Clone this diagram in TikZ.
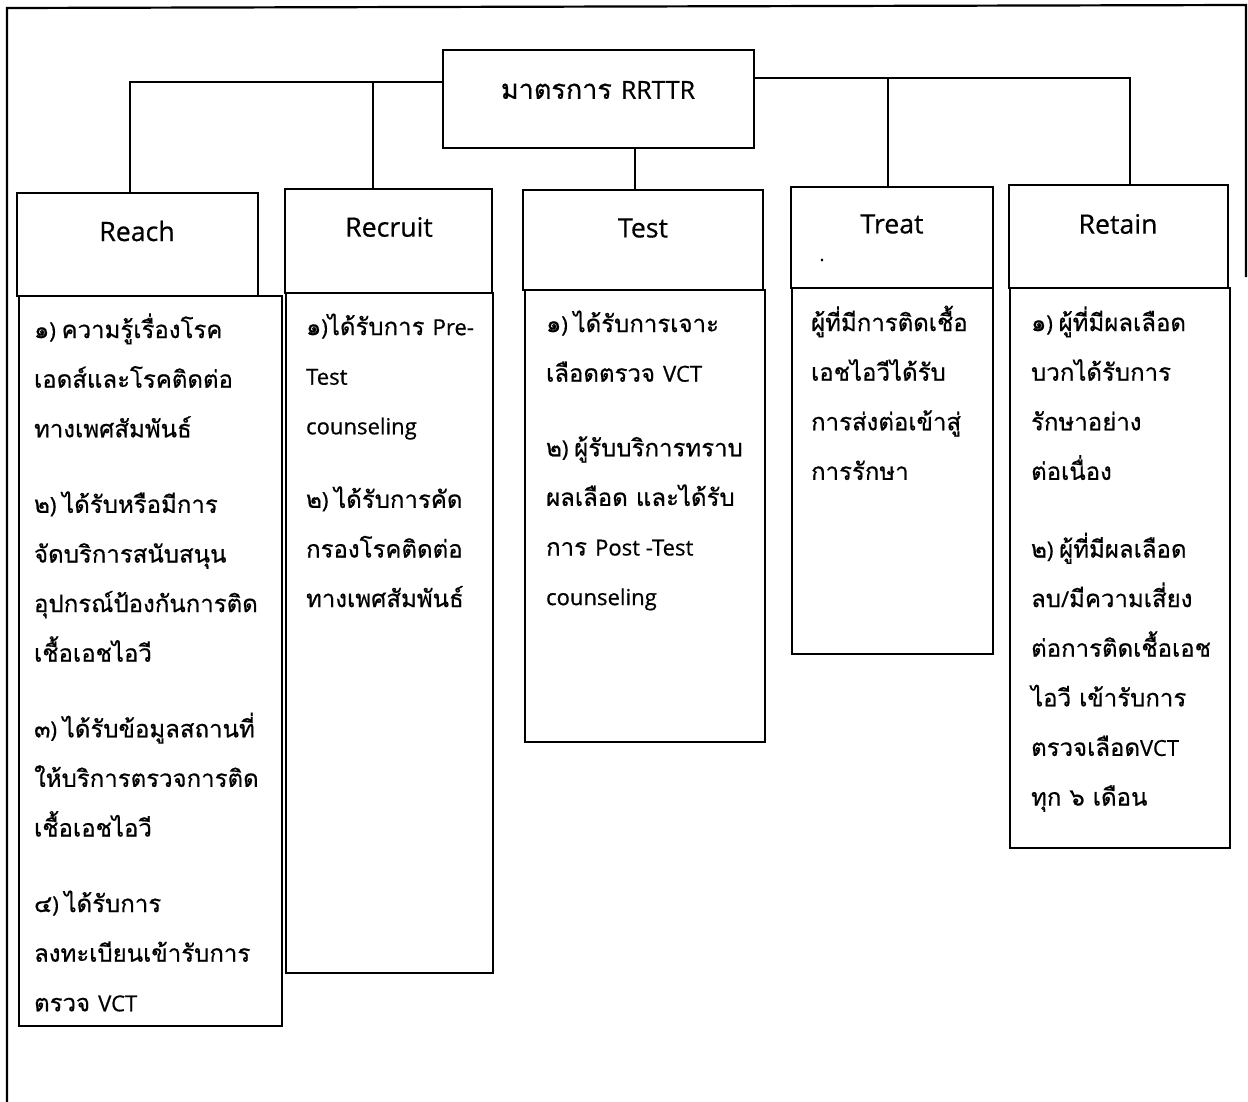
\documentclass[tikz,border=0pt]{standalone}
\usepackage{fontspec}
\setmainfont[Scale=0.92,FakeBold=0.6]{Open Sans}
\newfontfamily\latinfont[Scale=0.92,FakeBold=0.6]{Open Sans}
\newfontfamily\thaifont[Script=Thai,FakeBold=0.6]{Loma}
% switch to the Thai family automatically for characters U+0E00--U+0E7F
\XeTeXinterchartokenstate=1
\newXeTeXintercharclass\ThaiCls
\newcount\tcnt
\tcnt="0E00
\loop
  \XeTeXcharclass\tcnt=\ThaiCls
  \advance\tcnt by 1
\ifnum\tcnt<"0E80 \repeat
\XeTeXinterchartoks 0 \ThaiCls = {\thaifont}
\XeTeXinterchartoks 4095 \ThaiCls = {\thaifont}
\XeTeXinterchartoks \ThaiCls 0 = {\latinfont}
\XeTeXinterchartoks 4095 0 = {\latinfont}
\begin{document}
\begin{tikzpicture}[x=0.5pt,y=-0.5pt,
  line width=1.1pt,
  box/.style={draw,rectangle,inner sep=0pt,outer sep=0pt},
  head/.style={font=\fontsize{14.5}{18}\selectfont,inner sep=0pt},
  body/.style={font=\fontsize{12}{24.8}\selectfont,align=left,anchor=north west,inner sep=0pt},
]
\useasboundingbox (0,0) rectangle (1248,1102);

% outer frame
\draw (7,1102) -- (7,8) -- (1246,5) -- (1246,277);

% top box
\node[box,minimum width=155.5pt,minimum height=49pt] (top) at (598.5,99) {};
\node[font=\fontsize{13.5}{16}\selectfont,inner sep=0pt] (topT) at (598,90) {มาตรการ RRTTR};

% header boxes
\node[box,minimum width=120.5pt,minimum height=51.5pt] (reach)   at (137.5,244.5) {};
\node[box,minimum width=103.5pt,minimum height=52pt]   (recruit) at (388.5,241) {};
\node[box,minimum width=120pt,minimum height=50pt]     (test)    at (643,240) {};
\node[box,minimum width=101pt,minimum height=50.5pt]   (treat)   at (892,237.5) {};
\node[box,minimum width=109.5pt,minimum height=51.5pt] (retain)  at (1118.5,236.5) {};

% body boxes
\node[box,minimum width=131.5pt,minimum height=365pt] (reachB)   at (150.5,661) {};
\node[box,minimum width=103.5pt,minimum height=340pt] (recruitB) at (389.5,633) {};
\node[box,minimum width=120pt,minimum height=226pt]   (testB)    at (645,516) {};
\node[box,minimum width=100.5pt,minimum height=183pt] (treatB)   at (892.5,471) {};
\node[box,minimum width=110pt,minimum height=280pt]   (retainB)  at (1120,568) {};

% titles
\node[head] (reachT)   at (137,231) {Reach};
\node[head] (recruitT) at (389,227) {Recruit};
\node[head] (testT)    at (643,228) {Test};
\node[head] (treatT)   at (892,224) {Treat};
\node[head] (retainT)  at (1118,224) {Retain};
\node[inner sep=0pt,font=\fontsize{10}{12}\selectfont] (treatDot) at (822,260) {.};

% connectors
\coordinate (jl) at (130,82);
\coordinate (jrc) at (373,82);
\coordinate (jr) at (1130,78);
\coordinate (jt) at (888,78);
\coordinate (jc) at (635,0);
\draw (jl -| top.west) -- (jl) -- (jl |- reach.north);
\draw (jrc) -- (jrc |- recruit.north);
\draw (jr -| top.east) -- (jr) -- (jr |- retain.north);
\draw (jt) -- (jt |- treat.north);
\draw (jc |- top.south) -- (jc |- test.north);

% body texts
\node[body] (reachX) at (33,305) {\rule{0pt}{16pt}%
๑) ความรู้เรื่องโรค\\
เอดส์และโรคติดต่อ\\
ทางเพศสัมพันธ์\\[13pt]
๒) ได้รับหรือมีการ\\
จัดบริการสนับสนุน\\
อุปกรณ์ป้องกันการติด\\
เชื้อเอชไอวี\\[13pt]
๓) ได้รับข้อมูลสถานที่\\
ให้บริการตรวจการติด\\
เชื้อเอชไอวี\\[13pt]
๔) ได้รับการ\\
ลงทะเบียนเข้ารับการ\\
ตรวจ VCT};

\node[body] (recruitX) at (305,302) {\rule{0pt}{16pt}%
๑)ได้รับการ Pre-\\
Test\\
counseling\\[12pt]
๒) ได้รับการคัด\\
กรองโรคติดต่อ\\
ทางเพศสัมพันธ์};

\node[body] (testX) at (545,299) {\rule{0pt}{16pt}%
๑) ได้รับการเจาะ\\
เลือดตรวจ VCT\\[12.5pt]
๒) ผู้รับบริการทราบ\\
ผลเลือด และได้รับ\\
การ Post -Test\\
counseling};

\node[body] (treatX) at (810,298) {\rule{0pt}{16pt}%
ผู้ที่มีการติดเชื้อ\\
เอชไอวีได้รับ\\
การส่งต่อเข้าสู่\\
การรักษา};

\node[body] (retainX) at (1030,298) {\rule{0pt}{16pt}%
๑) ผู้ที่มีผลเลือด\\
บวกได้รับการ\\
รักษาอย่าง\\
ต่อเนื่อง\\[14pt]
๒) ผู้ที่มีผลเลือด\\
ลบ/มีความเสี่ยง\\
ต่อการติดเชื้อเอช\\
ไอวี เข้ารับการ\\
ตรวจเลือดVCT\\
ทุก ๖ เดือน};
\end{tikzpicture}
\end{document}
